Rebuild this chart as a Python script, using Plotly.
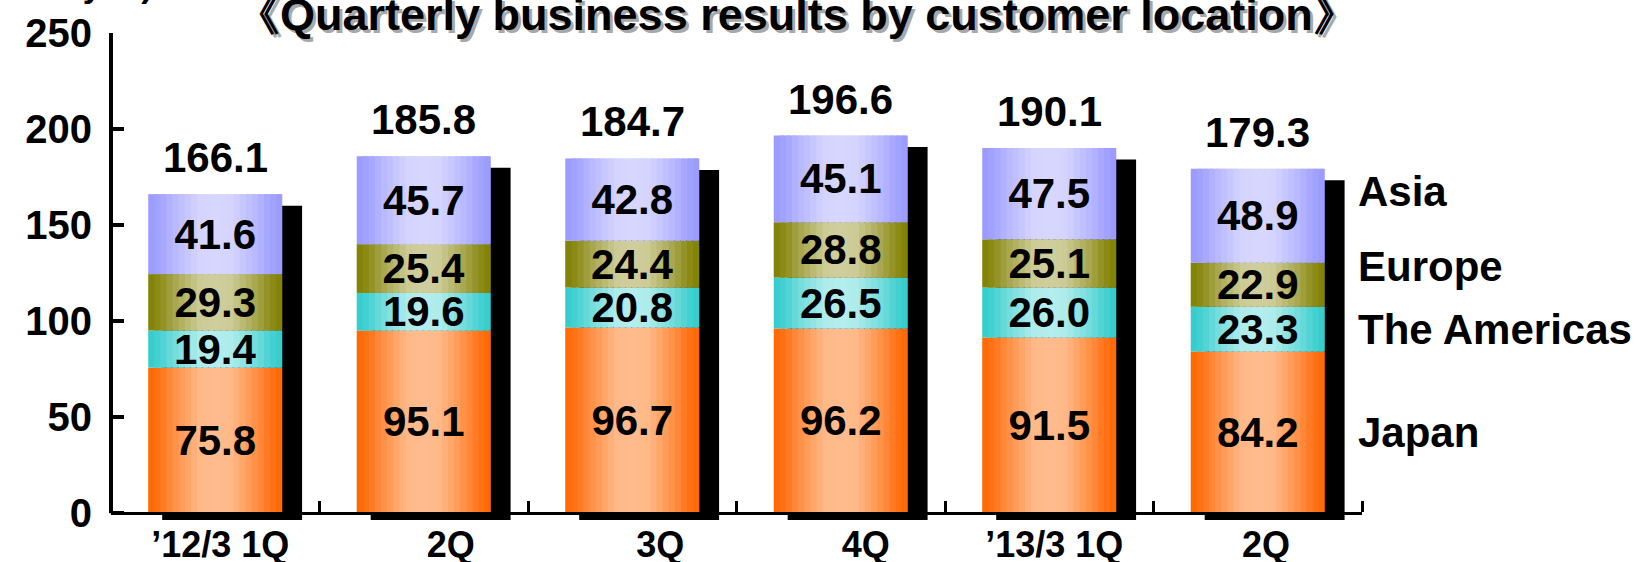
import plotly.graph_objects as go

# Quarterly sales by customer location (billion yen)
periods = ["\u201912/3 1Q", "2Q", "3Q", "4Q", "\u201913/3 1Q", "2Q"]
regions = ["Japan", "The Americas", "Europe", "Asia"]
japan = [75.8, 95.1, 96.7, 96.2, 91.5, 84.2]
americas = [19.4, 19.6, 20.8, 26.5, 26.0, 23.3]
europe = [29.3, 25.4, 24.4, 28.8, 25.1, 22.9]
asia = [41.6, 45.7, 42.8, 45.1, 47.5, 48.9]
totals = [166.1, 185.8, 184.7, 196.6, 190.1, 179.3]
y_ticks = [0, 50, 100, 150, 200, 250]

series = [japan, americas, europe, asia]

# edge colour and centre highlight of each region's cylinder-like fill
edge_rgb = [(255, 102, 0), (51, 204, 204), (128, 128, 0), (153, 153, 255)]
light_rgb = [(255, 188, 142), (180, 237, 237), (208, 206, 156), (215, 215, 255)]
# highlight profile across the bar width: (position, amount of highlight)
profile = [(0.0, 0.0), (0.08, 0.15), (0.2, 0.5), (0.38, 0.95), (0.5, 1.0),
           (0.62, 0.95), (0.8, 0.5), (0.92, 0.15), (1.0, 0.0)]

FONT = "Liberation Sans, Arial, sans-serif"
BAR_W = 0.643
N_STRIPS = 22
Y_MIN = -3.5
# horizontal nudge of each period label, in category widths
label_nudge = [0.024, 0.13, 0.134, 0.12, 0.024, 0.04]


def highlight(u):
    for (u0, t0), (u1, t1) in zip(profile[:-1], profile[1:]):
        if u0 <= u <= u1:
            return t0 + (t1 - t0) * (u - u0) / (u1 - u0)
    return 0.0


def mix(c1, c2, t):
    return "rgb(%d,%d,%d)" % tuple(round(a + (b - a) * t) for a, b in zip(c1, c2))


x_pos = list(range(len(periods)))
fig = go.Figure()

# drop shadow behind each stacked column
fig.add_trace(go.Bar(
    x=x_pos, y=totals, base=[-6.0] * len(totals),
    offset=-BAR_W / 2 + 0.067, width=BAR_W + 0.028,
    marker=dict(color="black", line=dict(width=0)),
    hoverinfo="skip",
))

# stacked segments, each drawn as overlapping vertical strips for the shaded fill
bases = [0.0] * len(periods)
seg_bases = []
sw = BAR_W / N_STRIPS
for k, vals in enumerate(series):
    seg_bases.append(list(bases))
    for j in range(N_STRIPS):
        u = (j + 0.5) / N_STRIPS
        w = sw if j == N_STRIPS - 1 else sw * 1.8
        fig.add_trace(go.Bar(
            x=x_pos, y=vals, base=list(bases),
            offset=-BAR_W / 2 + j * sw, width=w,
            marker=dict(color=mix(edge_rgb[k], light_rgb[k], highlight(u)),
                        line=dict(width=0)),
            hoverinfo="skip",
        ))
    bases = [b + v for b, v in zip(bases, vals)]

# value labels of each segment
for k, vals in enumerate(series):
    fig.add_trace(go.Bar(
        x=x_pos, y=vals, base=seg_bases[k],
        offset=-BAR_W / 2, width=BAR_W,
        marker=dict(color="rgba(0,0,0,0)", line=dict(width=0)),
        text=["%.1f" % v for v in vals],
        textposition="inside", insidetextanchor="middle",
        textangle=0, constraintext="none",
        textfont=dict(family=FONT, size=42, color="black", weight="bold"),
        name=regions[k], hoverinfo="skip",
    ))

annotations = []

# totals above the columns
for i, t in enumerate(totals):
    annotations.append(dict(
        x=i, y=t, xref="x", yref="y", text="%.1f" % t, showarrow=False,
        yanchor="bottom", yshift=11,
        font=dict(family=FONT, size=42, color="black", weight="bold"),
    ))

# region names beside the latest column
name_shift = [0, 0, 18, 24]
last = len(periods) - 1
for k, name in enumerate(regions):
    annotations.append(dict(
        x=x_pos[-1] + 0.5, y=seg_bases[k][last] + series[k][last] / 2,
        xref="x", yref="y", text=name, showarrow=False,
        xanchor="left", xshift=-6, yshift=name_shift[k],
        font=dict(family=FONT, size=42, color="black", weight="bold"),
    ))

# title with a soft grey drop shadow
title_text = "\u300aQuarterly business results by customer location\u300b"
for dx, dy, col in [(3, -3, "#a8a8a8"), (0, 0, "black")]:
    annotations.append(dict(
        x=0.548, y=1, xref="paper", yref="paper", text=title_text,
        showarrow=False, xanchor="center", yanchor="bottom",
        xshift=dx, yshift=-9 + dy,
        font=dict(family=FONT, size=45, color=col, weight="bold"),
    ))

# unit caption in the top-left corner
annotations.append(dict(
    x=0.035, y=1, xref="paper", yref="paper", text="(Billion yen)",
    showarrow=False, xanchor="right", yanchor="bottom", yshift=27,
    font=dict(family=FONT, size=34, color="black", weight="bold"),
))

fig.update_layout(
    width=1637, height=562,
    margin=dict(l=111, r=275, t=33, b=42, pad=0, autoexpand=False),
    plot_bgcolor="white", paper_bgcolor="white",
    showlegend=False, barmode="overlay",
    font=dict(family=FONT, color="black"),
    annotations=annotations,
    shapes=[dict(type="line", xref="paper", yref="y", x0=0, x1=0,
                 y0=0, y1=y_ticks[-1], line=dict(color="black", width=4),
                 layer="above")],
    xaxis=dict(
        range=[-0.5, len(periods) - 0.5], automargin=False,
        tickmode="array",
        tickvals=[x + d for x, d in zip(x_pos, label_nudge)],
        ticktext=periods,
        ticks="", showgrid=False, zeroline=False,
        showline=True, linecolor="black", linewidth=3,
        anchor="free", position=(0 - Y_MIN) / (y_ticks[-1] - Y_MIN),
        tickfont=dict(family=FONT, size=36, color="black", weight="bold"),
        ticklabelstandoff=-1,
        minor=dict(tickmode="array",
                   tickvals=[i - 0.5 for i in range(len(periods) + 1)],
                   ticks="inside", ticklen=11, tickwidth=3,
                   tickcolor="black", showgrid=False),
    ),
    yaxis=dict(
        range=[Y_MIN, y_ticks[-1]], automargin=False,
        tickmode="array", tickvals=y_ticks,
        ticks="inside", ticklen=13, tickwidth=4, tickcolor="black",
        showline=False, showgrid=False, zeroline=False,
        tickfont=dict(family=FONT, size=40, color="black", weight="bold"),
        ticklabelstandoff=18,
    ),
)

fig.write_html("out.html")
